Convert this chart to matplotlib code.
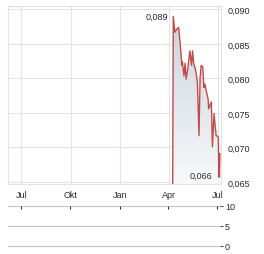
import matplotlib
matplotlib.use("Agg")
import matplotlib.pyplot as plt
import matplotlib.dates as mdates
import numpy as np
import pandas as pd
from matplotlib.ticker import FuncFormatter, FixedLocator

# price data
dates = pd.to_datetime([
    "2024-04-08", "2024-04-09", "2024-04-12", "2024-04-16", "2024-04-19",
    "2024-04-22", "2024-04-25", "2024-04-26", "2024-04-29", "2024-05-01",
    "2024-05-03", "2024-05-06", "2024-05-10", "2024-05-13", "2024-05-15",
    "2024-05-17", "2024-05-21", "2024-05-24", "2024-05-27", "2024-05-29",
    "2024-05-31", "2024-06-03", "2024-06-05", "2024-06-07", "2024-06-10",
    "2024-06-13", "2024-06-14", "2024-06-19", "2024-06-21", "2024-06-24",
    "2024-06-26", "2024-06-28", "2024-07-01", "2024-07-02", "2024-07-03",
    "2024-07-04", "2024-07-05",
])
prices = [
    0.0645, 0.0890, 0.0867, 0.0872, 0.0874,
    0.0850, 0.0819, 0.0824, 0.0804, 0.0822,
    0.0799, 0.0814, 0.0840, 0.0819, 0.0840,
    0.0822, 0.0811, 0.0794, 0.0717, 0.0800,
    0.0819, 0.0817, 0.0787, 0.0792, 0.0780,
    0.0770, 0.0756, 0.0766, 0.0701, 0.0749,
    0.0732, 0.0717, 0.0716, 0.0714, 0.0657,
    0.0657, 0.0691,
]
price_ticks = [0.065, 0.070, 0.075, 0.080, 0.085, 0.090]
month_ticks = pd.to_datetime(["2023-07-01", "2023-10-01", "2024-01-01", "2024-04-01", "2024-07-01"])
month_labels = ["Jul", "Okt", "Jan", "Apr", "Jul"]
volume_ticks = [0, 5, 10]
high_label, low_label = "0,089", "0,066"

plt.rcParams["font.family"] = ["Liberation Sans", "DejaVu Sans"]
fs = 6.5
txt = "#2a2a2a"
grid = "#e3e3e3"
red = "#c44a4a"

fig = plt.figure(figsize=(2.64, 2.55), dpi=100)
ax = fig.add_axes([8 / 264, 1 - 185 / 255, 213 / 264, 178 / 255])
vax = fig.add_axes([8 / 264, 1 - 247 / 255, 212 / 264, 40 / 255])

xmin = mdates.date2num(pd.Timestamp("2023-06-06"))
xmax = mdates.date2num(pd.Timestamp("2024-07-07"))
ymin, ymax = 0.0647, 0.0905

x = mdates.date2num(dates)
y = np.array(prices)

# gradient fill under the line
poly = ax.fill_between(x, y, ymin - 0.001, color="none", lw=0)
grad = np.linspace(0, 1, 256).reshape(-1, 1)
c_top = np.array([0.79, 0.83, 0.865])
c_bot = np.array([0.97, 0.976, 0.982])
img = c_top + (c_bot - c_top) * grad
im = ax.imshow(img[:, None, :].repeat(2, axis=1), aspect="auto",
               extent=[xmin, xmax, ymin, 0.089], origin="upper", zorder=1)
im.set_clip_path(poly.get_paths()[0], transform=ax.transData)
ax.plot(x, y, color=red, lw=1.0, zorder=3)

ax.set_xlim(xmin, xmax)
ax.set_ylim(ymin, ymax)
ax.xaxis.set_major_locator(FixedLocator(mdates.date2num(month_ticks)))
ax.set_xticklabels(month_labels)
ax.yaxis.set_major_locator(FixedLocator(price_ticks))
ax.yaxis.set_major_formatter(FuncFormatter(lambda v, p: f"{v:.3f}".replace(".", ",")))
ax.yaxis.tick_right()
ax.tick_params(axis="both", length=0, labelsize=fs, labelcolor=txt)
ax.tick_params(axis="y", pad=4.5)
ax.tick_params(axis="x", pad=4)
ax.grid(True, color=grid, lw=0.8)
ax.set_axisbelow(True)
for s in ax.spines.values():
    s.set_color(grid)
    s.set_linewidth(0.8)

# min / max labels
imax = int(np.argmax(y))
imin = int(np.argmin(y[1:])) + 1
ax.annotate(high_label, (x[imax], y[imax]), xytext=(-3.5, 0), textcoords="offset points",
            ha="right", va="center", fontsize=fs, color=txt, zorder=4)
ax.annotate(low_label, (x[imin], y[imin]), xytext=(-4.5, 1.5), textcoords="offset points",
            ha="right", va="center", fontsize=fs, color=txt, zorder=4)

# empty volume panel
vax.set_xlim(xmin, xmax)
vax.set_ylim(0, 10)
for v in volume_ticks:
    vax.axhline(v, color="#c8c8c8", lw=0.9, zorder=1, clip_on=False)
vax.xaxis.tick_top()
vax.xaxis.set_major_locator(FixedLocator(mdates.date2num(month_ticks)))
vax.tick_params(axis="x", direction="in", length=2.5, width=0.7, color="#222222", labeltop=False)
vax.yaxis.tick_right()
vax.yaxis.set_major_locator(FixedLocator(volume_ticks))
vax.tick_params(axis="y", length=2.5, width=0.7, color="#444444", labelsize=fs, labelcolor=txt, pad=1)
for s in vax.spines.values():
    s.set_visible(False)
vax.patch.set_alpha(0)

fig.savefig("out.png", dpi=100)
